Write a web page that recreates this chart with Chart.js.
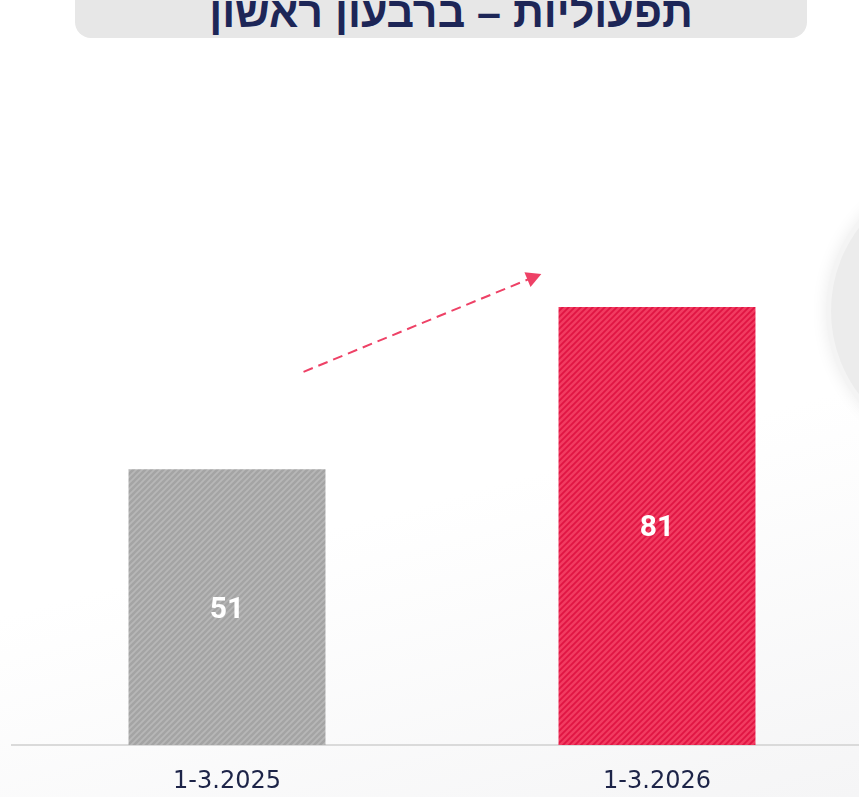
<!DOCTYPE html>
<html lang="he">
<head>
<meta charset="utf-8">
<script src="https://cdn.jsdelivr.net/npm/chart.js@4/dist/chart.umd.min.js"></script>
<style>
  html, body { margin: 0; padding: 0; }
  body {
    width: 859px; height: 797px; overflow: hidden; position: relative;
    background: linear-gradient(165deg, #ffffff 60%, #f5f5f6 100%);
  }
  #titleBox {
    position: absolute; left: 75px; top: -42px; width: 732px; height: 80px;
    background: #e7e7e7; border-radius: 16px;
  }
  #titleText {
    position: absolute; left: 85px; width: 732px; top: -10px;
    font-family: "Liberation Sans", "DejaVu Sans", sans-serif; font-weight: bold;
    font-size: 43px; line-height: 44px; color: #1d2657; text-align: center; direction: rtl;
    white-space: nowrap;
  }
  #deco {
    position: absolute; left: 826px; top: 168px; width: 276px; height: 276px;
    border-radius: 50%; background: #ececec; border: 5px solid #f4f4f4;
    box-shadow: 0 0 16px rgba(0,0,0,0.08);
  }
  #wrap { position: absolute; left: 0; top: 0; width: 872px; height: 797px; }
</style>
</head>
<body>
<div id="titleBox"></div>
<div id="titleText">תפעוליות – ברבעון ראשון</div>
<div id="deco"></div>
<div id="wrap"><canvas id="c" width="872" height="797"></canvas></div>
<script>
// ---- data ----
const categories = ["1-3.2025", "1-3.2026"];
const values = [51, 81];
const yMax = 125;
// arrow annotation in data units: [category position, value]
const arrowFrom = [0.178, 69.0];
const arrowTo = [0.731, 87.1];

function hatch(base, stripe) {
  const s = 6;
  const p = document.createElement('canvas');
  p.width = s; p.height = s;
  const g = p.getContext('2d');
  g.fillStyle = base; g.fillRect(0, 0, s, s);
  g.strokeStyle = stripe; g.lineWidth = 1.8;
  g.beginPath();
  g.moveTo(0, s); g.lineTo(s, 0);
  g.moveTo(-1, 1); g.lineTo(1, -1);
  g.moveTo(s - 1, s + 1); g.lineTo(s + 1, s - 1);
  g.stroke();
  return document.getElementById('c').getContext('2d').createPattern(p, 'repeat');
}

const grayPat = hatch('#a4a4a4', '#b7b7b7');
const redPat = hatch('#f13c61', '#e01543');

const valueLabels = {
  id: 'valueLabels',
  afterDatasetsDraw(chart) {
    const ctx = chart.ctx;
    const meta = chart.getDatasetMeta(0);
    ctx.save();
    ctx.fillStyle = '#ffffff';
    ctx.font = 'bold 30px Roboto, "Open Sans", sans-serif';
    ctx.textAlign = 'center';
    ctx.textBaseline = 'middle';
    meta.data.forEach((bar, i) => {
      ctx.fillText(String(values[i]), bar.x, (bar.y + bar.base) / 2 + 3);
    });
    ctx.restore();
  }
};

const arrowPlugin = {
  id: 'arrow',
  afterDatasetsDraw(chart) {
    const xs = chart.scales.x, ys = chart.scales.y;
    const p0 = xs.getPixelForValue(0), p1 = xs.getPixelForValue(1);
    const px = v => p0 + v * (p1 - p0);
    const x1 = px(arrowFrom[0]), y1 = ys.getPixelForValue(arrowFrom[1]);
    const x2 = px(arrowTo[0]), y2 = ys.getPixelForValue(arrowTo[1]);
    const ang = Math.atan2(y2 - y1, x2 - x1);
    const headLen = 15, headW = 8;
    const bx = x2 - headLen * Math.cos(ang), by = y2 - headLen * Math.sin(ang);
    const ctx = chart.ctx;
    ctx.save();
    ctx.strokeStyle = '#ee4166';
    ctx.fillStyle = '#ee4166';
    ctx.lineWidth = 2;
    ctx.setLineDash([10, 6]);
    ctx.beginPath();
    ctx.moveTo(x1, y1);
    ctx.lineTo(bx + 2 * Math.cos(ang), by + 2 * Math.sin(ang));
    ctx.stroke();
    ctx.setLineDash([]);
    ctx.beginPath();
    ctx.moveTo(x2, y2);
    ctx.lineTo(bx + headW * Math.sin(ang), by - headW * Math.cos(ang));
    ctx.lineTo(bx - headW * Math.sin(ang), by + headW * Math.cos(ang));
    ctx.closePath();
    ctx.fill();
    ctx.restore();
  }
};

new Chart(document.getElementById('c'), {
  type: 'bar',
  data: {
    labels: categories,
    datasets: [{
      data: values,
      backgroundColor: [grayPat, redPat],
      borderWidth: 0,
      barPercentage: 0.458,
      categoryPercentage: 1.0
    }]
  },
  options: {
    responsive: false,
    animation: false,
    events: [],
    layout: { padding: { left: 12, right: 0, top: 69, bottom: 0 } },
    plugins: { legend: { display: false }, title: { display: false }, tooltip: { enabled: false } },
    scales: {
      x: {
        grid: { display: false, drawTicks: false },
        border: { display: true, color: '#dadada', width: 2 },
        ticks: {
          color: '#1d2448',
          font: { family: '"DejaVu Sans", sans-serif', size: 24 },
          padding: 22
        },
        afterFit(scale) { scale.height = 52; }
      },
      y: {
        display: false,
        min: 0, max: yMax
      }
    }
  },
  plugins: [valueLabels, arrowPlugin]
});
</script>
</body>
</html>
